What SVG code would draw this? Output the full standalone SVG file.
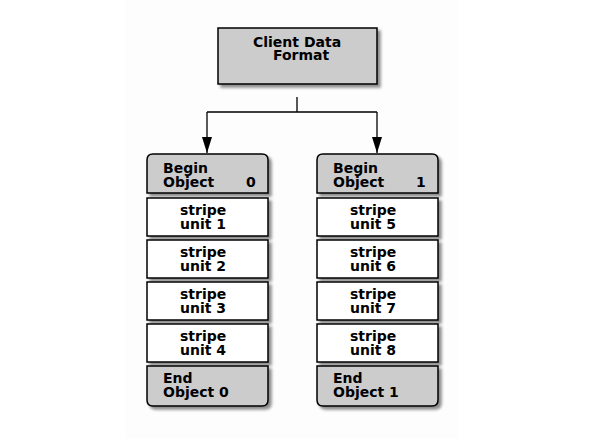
<svg xmlns="http://www.w3.org/2000/svg" width="603" height="444" viewBox="0 0 603 444">
<defs>
<filter id="sh" x="-10%" y="-10%" width="130%" height="140%">
<feGaussianBlur in="SourceAlpha" stdDeviation="1.5"/>
<feOffset dx="3" dy="3" result="b"/>
<feComponentTransfer><feFuncA type="linear" slope="0.45"/></feComponentTransfer>
<feMerge><feMergeNode/><feMergeNode in="SourceGraphic"/></feMerge>
</filter>
<marker id="arr" markerWidth="16" markerHeight="10" refX="16" refY="5" orient="auto" markerUnits="userSpaceOnUse" viewBox="0 0 16 10">
<path d="M0,0 L16,5 L0,10 Z" fill="#000"/>
</marker>
<style>
.g{fill:#cccccc;stroke:#000;stroke-width:1.5}
.w{fill:#ffffff;stroke:#000;stroke-width:1.5}
text{font-family:"DejaVu Sans",sans-serif;font-weight:bold;font-size:14px;fill:#000}
.c{stroke:#000;stroke-width:1.3;fill:none}
</style>
</defs>
<rect width="603" height="444" fill="#ffffff"/>
<rect x="125" y="0" width="333" height="439" fill="#fdfdfd"/>
<g id="client">
<rect class="g" x="218" y="28" width="159" height="56" filter="url(#sh)"/>
<text x="253" y="47">Client Data</text>
<text x="273" y="60">Format</text>
</g>
<g id="connectors">
<path class="c" d="M297,97 V112 M207,112 H377"/>
<path class="c" d="M207,112 V153" marker-end="url(#arr)"/>
<path class="c" d="M377,112 V153" marker-end="url(#arr)"/>
</g>
<g id="begin0">
<path class="g" filter="url(#sh)" d="M147,193 V160 Q147,154 153,154 H262 Q268,154 268,160 V193 Z"/>
<text x="163" y="173">Begin</text>
<text x="163" y="187">Object</text>
<text x="246" y="187">0</text>
</g>
<g id="su1"><rect class="w" x="147" y="198" width="121" height="38" filter="url(#sh)"/><text x="180" y="215">stripe</text><text x="180" y="229">unit 1</text></g>
<g id="su2"><rect class="w" x="147" y="240" width="121" height="38" filter="url(#sh)"/><text x="180" y="257">stripe</text><text x="180" y="271">unit 2</text></g>
<g id="su3"><rect class="w" x="147" y="282" width="121" height="38" filter="url(#sh)"/><text x="180" y="299">stripe</text><text x="180" y="313">unit 3</text></g>
<g id="su4"><rect class="w" x="147" y="324" width="121" height="38" filter="url(#sh)"/><text x="180" y="341">stripe</text><text x="180" y="355">unit 4</text></g>
<g id="end0">
<path class="g" filter="url(#sh)" d="M147,366 H268 V400 Q268,406 262,406 H153 Q147,406 147,400 Z"/>
<text x="163" y="383">End</text>
<text x="163" y="397">Object 0</text>
</g>
<g id="begin1">
<path class="g" filter="url(#sh)" d="M317,193 V160 Q317,154 323,154 H432 Q438,154 438,160 V193 Z"/>
<text x="333" y="173">Begin</text>
<text x="333" y="187">Object</text>
<text x="416" y="187">1</text>
</g>
<g id="su5"><rect class="w" x="317" y="198" width="121" height="38" filter="url(#sh)"/><text x="350" y="215">stripe</text><text x="350" y="229">unit 5</text></g>
<g id="su6"><rect class="w" x="317" y="240" width="121" height="38" filter="url(#sh)"/><text x="350" y="257">stripe</text><text x="350" y="271">unit 6</text></g>
<g id="su7"><rect class="w" x="317" y="282" width="121" height="38" filter="url(#sh)"/><text x="350" y="299">stripe</text><text x="350" y="313">unit 7</text></g>
<g id="su8"><rect class="w" x="317" y="324" width="121" height="38" filter="url(#sh)"/><text x="350" y="341">stripe</text><text x="350" y="355">unit 8</text></g>
<g id="end1">
<path class="g" filter="url(#sh)" d="M317,366 H438 V400 Q438,406 432,406 H323 Q317,406 317,400 Z"/>
<text x="333" y="383">End</text>
<text x="333" y="397">Object 1</text>
</g>
</svg>
